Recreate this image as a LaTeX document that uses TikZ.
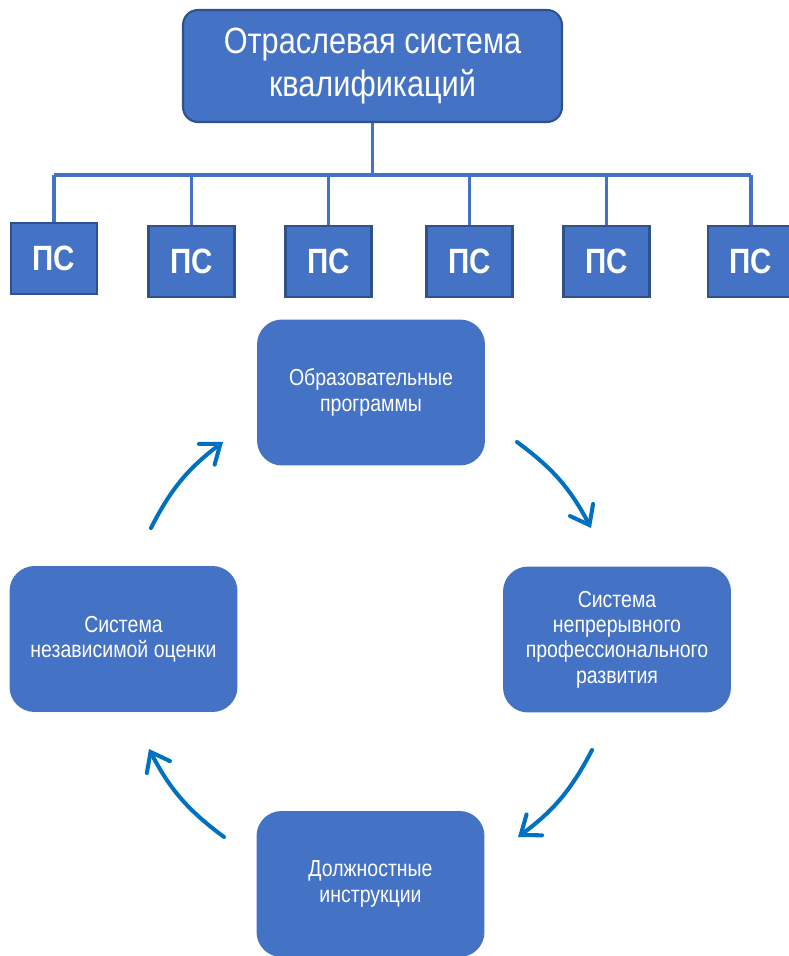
\documentclass[tikz,border=0pt]{standalone}
\usepackage{fontspec}
\setmainfont[FakeStretch=0.84]{Liberation Sans}
\usetikzlibrary{positioning, arrows.meta}
\definecolor{boxblue}{HTML}{4472C4}
\definecolor{edgeblue}{HTML}{2F528F}
\definecolor{arrowblue}{HTML}{0070C0}
\tikzset{
headbox/.style={draw=edgeblue, line width=1.2pt, fill=boxblue, rounded corners=0.3cm,
  minimum width=7.58cm, minimum height=2.24cm, text=white, align=center,
  font=\fontsize{20.8}{24.6}\selectfont},
psbox/.style={draw=edgeblue, line width=1.2pt, fill=boxblue,
  minimum width=1.72cm, minimum height=1.42cm, text=white,
  font=\fontsize{20}{24}\selectfont\bfseries},
cyclebox/.style={fill=boxblue, rounded corners=0.5cm,
  minimum width=4.56cm, minimum height=2.92cm, text=white, align=center,
  font=\fontsize{13.2}{14.4}\selectfont},
busline/.style={draw=boxblue, line width=1.9pt},
cyclearrow/.style={draw=arrowblue, line width=2.3pt, line cap=round,
  -{Straight Barb[length=3.4mm, width=5.2mm, line cap=round]}}
}

\begin{document}
\begin{tikzpicture}[x=0.02cm, y=-0.02cm]
\useasboundingbox (0,0) rectangle (788,956);
% top of the tree
\node[headbox] (osk) at (372.5,66) {Отраслевая система\\квалификаций};
\node[psbox] (ps1) at (54,258.5) {ПС};
\node[psbox] (ps2) at (191.5,261.5) {ПС};
\node[psbox] (ps3) at (328.5,261.5) {ПС};
\node[psbox] (ps4) at (469.5,261.5) {ПС};
\node[psbox] (ps5) at (606.5,261.5) {ПС};
\node[psbox] (ps6) at (751,261.5) {ПС};
\coordinate (busl) at (54,175);
\coordinate (busr) at (751,175);
\draw[busline] (osk.south) -- (osk.south |- busl);
\draw[busline] (busl) -- (busr);
\draw[busline]
(ps1.north |- busl) -- (ps1.north)
(ps2.north |- busl) -- (ps2.north)
(ps3.north |- busl) -- (ps3.north)
(ps4.north |- busl) -- (ps4.north)
(ps5.north |- busl) -- (ps5.north)
(ps6.north |- busl) -- (ps6.north);

% the cycle
\node[cyclebox] (op) at (371,392.5) {Образовательные\\программы};
\node[cyclebox] (np) at (617,639.5) {Система\\непрерывного\\профессионального\\развития};
\node[cyclebox] (di) at (370.5,884) {Должностные\\инструкции};
\node[cyclebox] (ni) at (123.5,639) {Система\\независимой оценки};
\coordinate (a1) at (151,528);
\coordinate (a2) at (223,442);
\coordinate (b1) at (517,442);
\coordinate (b2) at (591,528);
\coordinate (c1) at (592,750);
\coordinate (c2) at (518,837);
\coordinate (d1) at (224,837);
\coordinate (d2) at (149,749);
\draw[cyclearrow] (a1) to[bend left=13] (a2);
\draw[cyclearrow] (b1) to[bend left=13] (b2);
\draw[cyclearrow] (c1) to[bend left=13] (c2);
\draw[cyclearrow] (d1) to[bend left=13] (d2);
\end{tikzpicture}
\end{document}
